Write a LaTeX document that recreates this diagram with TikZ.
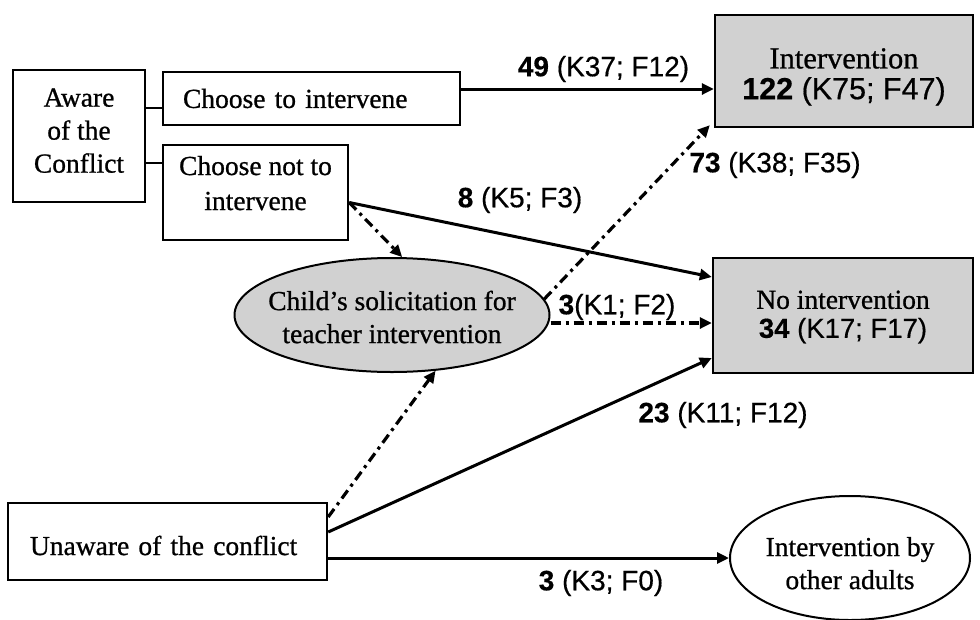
\documentclass[tikz,border=0pt]{standalone}
\usepackage{fontspec}
\setmainfont[FakeBold=0.8]{Liberation Serif}
\newfontfamily\lblfont[FakeBold=0.5]{Liberation Sans}
\usetikzlibrary{arrows.meta,shapes.geometric}
\newcommand{\shiftlines}[2]{\raisebox{#1}[\height][\depth]{\begin{tabular}{@{}c@{}}#2\end{tabular}}}
\begin{document}
\begin{tikzpicture}[x=1pt,y=-1pt,
  box/.style={draw, line width=2.4pt, inner sep=0pt, font=\fontsize{27.5}{33}\selectfont, align=center},
  shaded/.style={box, fill=black!18, font=\fontsize{27.5}{29}\selectfont},
  oval/.style={draw, ellipse, line width=2pt, inner sep=0pt, font=\fontsize{27.5}{33}\selectfont, align=center},
  lbl/.style={font=\lblfont\fontsize{28}{33}\selectfont, inner sep=0pt},
  arr/.style={line width=3pt, -{Triangle[length=12pt,width=11pt]}},
  dd/.style={line width=3.2pt, dash pattern=on 10pt off 5pt on 3pt off 5pt, -{Triangle[length=12pt,width=11pt]}},
  link/.style={line width=2pt}
]
\useasboundingbox (0,0) rectangle (980,619);

% nodes
\node[box, minimum width=132pt, minimum height=132pt] (aware) at (79,136) {\shiftlines{3pt}{Aware\\of the\\Conflict}};
\node[box, minimum height=53pt, text width=257pt, inner xsep=20pt, align=left] (choose) at (311.5,98.5) {Choose to intervene};
\node[box, minimum width=185pt, minimum height=95pt, font=\fontsize{27.5}{35}\selectfont] (choosenot) at (255.5,192.5) {\shiftlines{7pt}{Choose not to\\intervene}};
\node[shaded, minimum width=258pt, minimum height=112pt, font=\fontsize{30.5}{29}\selectfont] (interv) at (844,71) {\shiftlines{-7pt}{Intervention\\{\lblfont\textbf{122} (K75; F47)}}};
\node[shaded, minimum width=260pt, minimum height=115pt] (noint) at (843,315.5) {\shiftlines{-2pt}{No intervention\\{\lblfont\textbf{34} (K17; F17)}}};
\node[box, minimum height=77pt, text width=275pt, inner xsep=22pt, align=left] (unaware) at (167.5,541.5) {\raisebox{-4pt}[\height][\depth]{Unaware of the conflict}};
\node[oval, fill=black!18, inner xsep=-14pt, minimum width=315pt, minimum height=114pt] (solic) at (392,315) {\shiftlines{-5pt}{Child's solicitation for\\teacher intervention}};
\node[oval, inner xsep=-3pt, minimum width=240pt, minimum height=124pt] (others) at (850,558) {\shiftlines{-8pt}{Intervention by\\other adults}};

% helper coordinates
\coordinate (ya) at (0,108);
\coordinate (yb) at (0,163);
\coordinate (yc) at (0,89);
\coordinate (yd) at (0,323);

% connectors
\draw[link] (aware.east |- ya) -- (choose.west |- ya);
\draw[link] (aware.east |- yb) -- (choosenot.west |- yb);
\draw[arr] (choose.east |- yc) -- (interv.west |- yc);
\draw[arr] ([yshift=-10pt]choosenot.east) -- ([yshift=38.5pt]noint.west);
\draw[dd] ([yshift=-10pt]choosenot.east) -- (solic.80);
\draw[dd] (solic.6) -- ([xshift=-4pt,yshift=3pt]interv.south west);
\draw[dd] (solic.east |- yd) -- (noint.west |- yd);
\draw[dd] ([yshift=24.5pt]unaware.east) -- (solic.308);
\draw[arr] ([yshift=9.5pt]unaware.east) -- ([yshift=-42.5pt]noint.west);
\draw[arr] ([yshift=-16.5pt]unaware.east) -- (others.west);

% labels
\node[lbl] (l49) at (603.5,69) {\textbf{49} (K37; F12)};
\node[lbl] (l73) at (775,165) {\textbf{73} (K38; F35)};
\node[lbl] (l8) at (520,200) {\textbf{8} (K5; F3)};
\node[lbl] (l3a) at (617,307) {\textbf{3}(K1; F2)};
\node[lbl] (l23) at (723,415) {\textbf{23} (K11; F12)};
\node[lbl] (l3b) at (601,583) {\textbf{3} (K3; F0)};
\end{tikzpicture}
\end{document}
